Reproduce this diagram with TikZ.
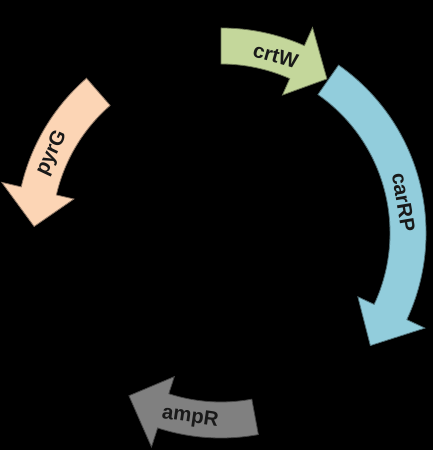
\documentclass[tikz,border=0pt]{standalone}
\usepackage{fontspec}
\setmainfont{Liberation Sans}
\definecolor{gcol}{HTML}{C4D79B}
\definecolor{bcol}{HTML}{92CDDC}
\definecolor{pcol}{HTML}{FCD5B5}
\definecolor{acol}{HTML}{808080}
\begin{document}
\begin{tikzpicture}[x=1bp,y=1bp,
  gene/.style={line width=0.8bp, line join=miter},
  lbl/.style={font=\fontsize{20.5}{24}\selectfont\bfseries, text=black!90, inner sep=0pt}]
\fill[black] (0,0) rectangle (433,450);
\useasboundingbox (0,0) rectangle (433,450);
\coordinate (C) at (221,217);
\begin{scope}[shift={(C)}]
% crtW (clockwise)
\filldraw[gene, fill=gcol, draw=gcol!55!black]
  (90:205) arc[start angle=90, end angle=66, radius=205] -- (66:225) -- (55.5:187)
  -- (66:151) -- (66:169) arc[start angle=66, end angle=90, radius=169] -- cycle;
% carRP (clockwise)
\filldraw[gene, fill=bcol, draw=bcol!55!black]
  (55:205) arc[start angle=55, end angle=-25, radius=205] -- (-25:225) -- (-37:187)
  -- (-25:151) -- (-25:169) arc[start angle=-25, end angle=55, radius=169] -- cycle;
% ampR (clockwise)
\filldraw[gene, fill=acol, draw=acol!55!black]
  (-79.5:205) arc[start angle=-79.5, end angle=-108, radius=205] -- (-108:225) -- (-119.5:187)
  -- (-108:151) -- (-108:169) arc[start angle=-108, end angle=-79.5, radius=169] -- cycle;
% pyrG (counterclockwise)
\filldraw[gene, fill=pcol, draw=pcol!55!black]
  (131:205) arc[start angle=131, end angle=167, radius=205] -- (167:225) -- (178:187)
  -- (167:151) -- (167:169) arc[start angle=167, end angle=131, radius=169] -- cycle;
\node[lbl, rotate=-16] (crtW) at (72.8:185) {crtW};
\node[lbl, rotate=-80.5] (carRP) at (9.5:185) {carRP};
\node[lbl, rotate=-8] (ampR) at (-99.5:187) {ampR};
\node[lbl, rotate=64.7] (pyrG) at (154.7:187) {pyrG};
\end{scope}
\end{tikzpicture}
\end{document}
